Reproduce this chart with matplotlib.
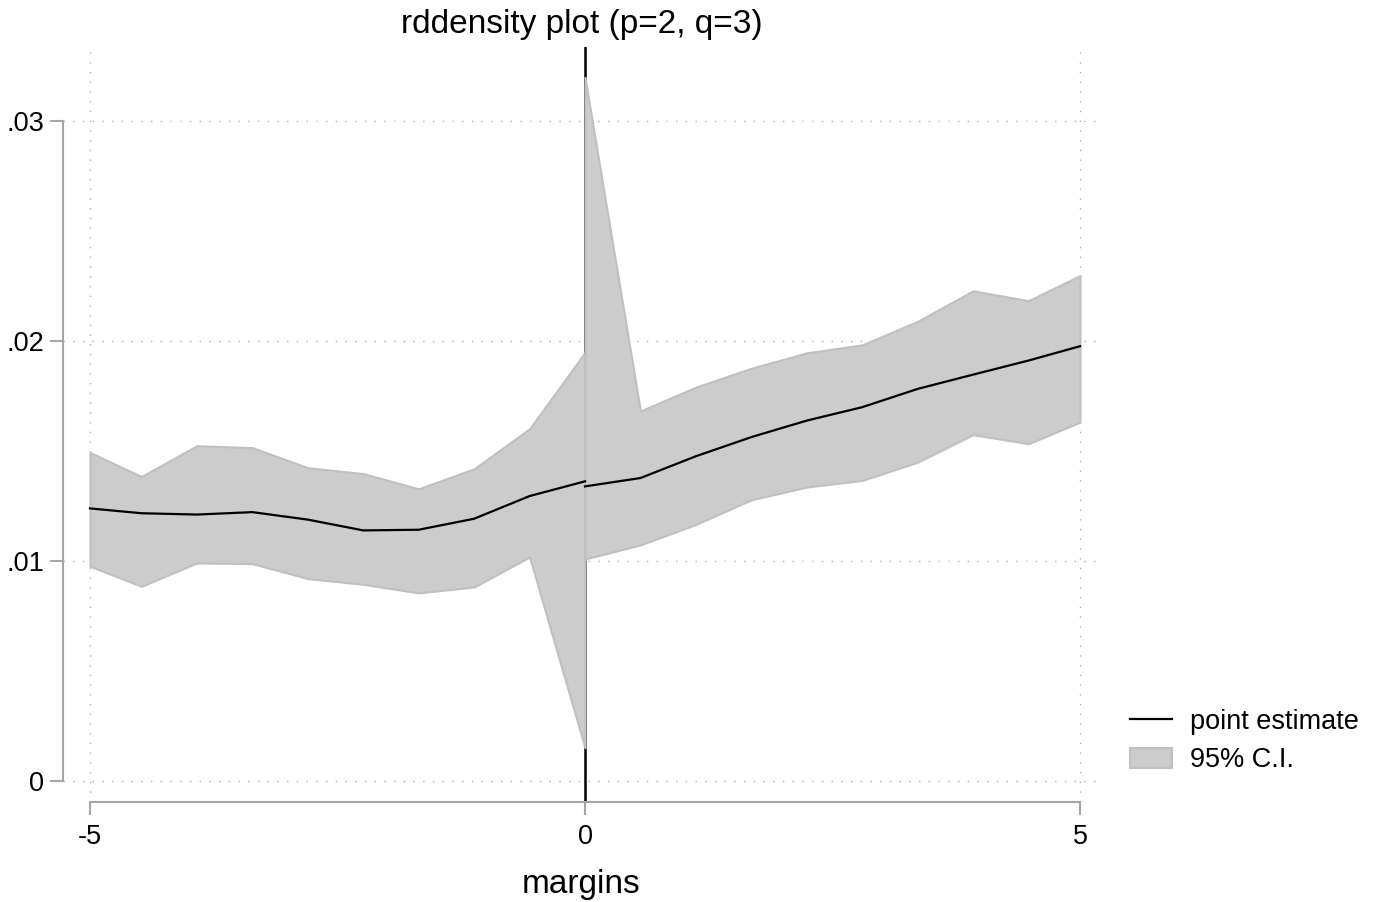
import numpy as np
import matplotlib
matplotlib.use("Agg")
import matplotlib.pyplot as plt
from matplotlib.lines import Line2D
from matplotlib.patches import Patch

plt.rcParams['font.family'] = ['Liberation Sans', 'DejaVu Sans']

# data
x_left = [-5, -4.48, -3.92, -3.36, -2.80, -2.24, -1.68, -1.12, -0.56, 0]
est_left = [0.01239, 0.01217, 0.01211, 0.01222, 0.01188, 0.01139, 0.01142, 0.01192, 0.01295, 0.01362]
lo_left = [0.00976, 0.00885, 0.00991, 0.00988, 0.00920, 0.00894, 0.00855, 0.00882, 0.01018, 0.00151]
hi_left = [0.01493, 0.01384, 0.01524, 0.01515, 0.01424, 0.01397, 0.01328, 0.01419, 0.01601, 0.01948]

x_right = [0, 0.56, 1.12, 1.68, 2.24, 2.80, 3.36, 3.92, 4.48, 5]
est_right = [0.01339, 0.01377, 0.01476, 0.01563, 0.01638, 0.01699, 0.01782, 0.01847, 0.01911, 0.01976]
lo_right = [0.01009, 0.01073, 0.01166, 0.01278, 0.01336, 0.01366, 0.01449, 0.01574, 0.01533, 0.01631]
hi_right = [0.03198, 0.01682, 0.01790, 0.01876, 0.01946, 0.01982, 0.02089, 0.02228, 0.02183, 0.02297]

xticks = [-5, 0, 5]
xtick_labels = ["-5", "0", "5"]
yticks = [0, 0.01, 0.02, 0.03]
ytick_labels = ["0", ".01", ".02", ".03"]

fill_col = "#cccccc"
edge_col = "#c0c0c0"
axis_col = "#a6a6a6"

fig = plt.figure(figsize=(13.81, 9.02), dpi=100)
ax = fig.add_axes([63 / 1381, 100 / 902, 1037 / 1381, 755 / 902])
ax.set_axisbelow(True)

ax.axvline(0, color="black", lw=1.8, zorder=1)
for xs, lo, hi in [(x_left, lo_left, hi_left), (x_right, lo_right, hi_right)]:
    ax.fill_between(xs, lo, hi, facecolor=fill_col, edgecolor=edge_col, lw=1.5, zorder=2)
for xs, est in [(x_left, est_left), (x_right, est_right)]:
    ax.plot(xs, est, color="black", lw=1.6, zorder=3)

ax.set_xlim(-5 - 27 / 99, 5 + 20 / 99)
ax.set_ylim(-21 / 22033, 0.03 + 74 / 22033)

ax.set_xticks(xticks)
ax.set_xticklabels(xtick_labels)
ax.set_yticks(yticks)
ax.set_yticklabels(ytick_labels)
ax.grid(True, linestyle=(0, (1, 6)), color="#b0b0b0", lw=1.0)

for s in ["top", "right"]:
    ax.spines[s].set_visible(False)
ax.spines["left"].set_bounds(0, 0.03)
ax.spines["bottom"].set_bounds(-5, 5)
for s in ["left", "bottom"]:
    ax.spines[s].set_color(axis_col)
    ax.spines[s].set_linewidth(1.5)
ax.tick_params(axis="both", colors=axis_col, length=9.5, width=1.5, labelsize=19.5,
               labelcolor="black", direction="out")
ax.tick_params(axis="x", pad=6)
ax.tick_params(axis="y", pad=4)

ax.set_title("rddensity plot (p=2, q=3)", fontsize=24, pad=10)
ax.set_xlabel("margins", fontsize=24, labelpad=14)

handles = [Line2D([0], [0], color="black", lw=1.6),
           Patch(facecolor=fill_col, edgecolor=edge_col, lw=1.5)]
fig.legend(handles, ["point estimate", "95% C.I."], loc="center left",
           bbox_to_anchor=(1130 / 1381, 1 - 741 / 902), frameon=False, fontsize=19.5,
           borderpad=0, borderaxespad=0,
           handlelength=1.55, handleheight=0.75, handletextpad=0.65, labelspacing=0.45)

fig.savefig("out.png", dpi=100)
